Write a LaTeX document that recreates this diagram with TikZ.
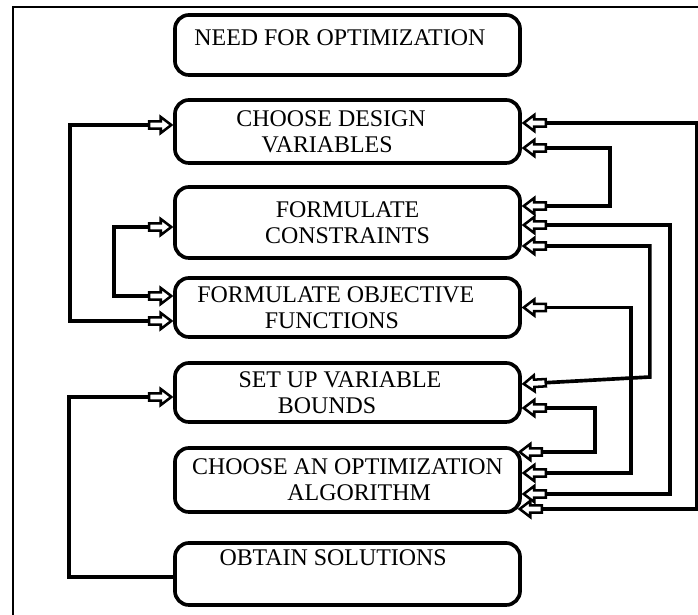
\documentclass[tikz,border=0pt]{standalone}
\usepackage{fontspec}
\setmainfont{Liberation Serif}
\usetikzlibrary{arrows.meta}

% hollow block arrow
\pgfdeclarearrow{
  name=Block,
  setup code={
    \pgfarrowssettipend{0pt}
    \pgfarrowssetlineend{-16pt}
    \pgfarrowssetvisualbackend{-17pt}
    \pgfarrowssetbackend{-18pt}
    \pgfarrowshullpoint{0pt}{0pt}
    \pgfarrowshullpoint{-18pt}{6.6pt}
    \pgfarrowshullpoint{-18pt}{-6.6pt}
  },
  drawing code={
    \pgfsetlinewidth{1.8pt}\pgfsetdash{}{0pt}\pgfsetmiterjoin
    \pgfpathmoveto{\pgfqpoint{-1.3pt}{0pt}}
    \pgfpathlineto{\pgfqpoint{-8.8pt}{5.7pt}}
    \pgfpathlineto{\pgfqpoint{-8.8pt}{2.6pt}}
    \pgfpathlineto{\pgfqpoint{-17pt}{2.6pt}}
    \pgfpathlineto{\pgfqpoint{-17pt}{-2.6pt}}
    \pgfpathlineto{\pgfqpoint{-8.8pt}{-2.6pt}}
    \pgfpathlineto{\pgfqpoint{-8.8pt}{-5.7pt}}
    \pgfpathclose
    \pgfsetfillcolor{white}
    \pgfusepathqfillstroke
  }
}

\begin{document}
\begin{tikzpicture}[x=0.025cm,y=-0.025cm,>=Block,
  every node/.style={font=\fontsize{17}{18.5}\selectfont},
  box/.style={draw,line width=2.6pt,rounded corners=0.35cm,minimum width=8.625cm,align=center,inner sep=2pt},
  line/.style={line width=2.6pt}]
\useasboundingbox (0,0) rectangle (698,615);
\draw[line width=1.6pt] (13,615) -- (13,7) -- (698,7);

\node[box,minimum height=1.5cm,text depth=10pt] (b1) at (347.5,45) {\hspace*{-0.38cm}NEED FOR OPTIMIZATION};
\node[box,minimum height=1.575cm] (b2) at (347.5,131.5) {\hspace*{-0.82cm}CHOOSE DESIGN\\\hspace*{-1.02cm}VARIABLES};
\node[box,minimum height=1.775cm] (b3) at (347.5,222.5) {FORMULATE\\CONSTRAINTS};
\node[box,minimum height=1.475cm] (b4) at (347.5,307.5) {\hspace*{-0.58cm}FORMULATE OBJECTIVE\\\hspace*{-0.78cm}FUNCTIONS};
\node[box,minimum height=1.475cm] (b5) at (347.5,392.5) {\hspace*{-0.38cm}SET UP VARIABLE\\\hspace*{-1.02cm}BOUNDS};
\node[box,minimum height=1.6cm] (b6) at (347.5,480) {CHOOSE AN OPTIMIZATION\\\hspace*{0.58cm}ALGORITHM};
\node[box,minimum height=1.55cm,text depth=24pt] (b7) at (347.5,574) {\hspace*{-0.72cm}OBTAIN SOLUTIONS};

% right side
\draw[line,<->] ([shift={(0,-8.5)}]b2.east) -- ++(175,0) |- ([shift={(-4,29)}]b6.east);
\draw[line,<->] ([shift={(0,16.5)}]b2.east) -- ++(88,0) |- ([shift={(0,-16.5)}]b3.east);
\draw[line,<->] ([shift={(0,2.5)}]b3.east) -- ++(148,0) |- ([shift={(0,14)}]b6.east);
\draw[line,<->] ([shift={(0,23.5)}]b3.east) -- ++(128,0) -- ++(0,131) -- ([shift={(0,-8.5)}]b5.east);
\draw[line,<->] (b4.east) -- ++(109,0) |- ([shift={(0,-7)}]b6.east);
\draw[line,<->] ([shift={(0,15.5)}]b5.east) -- ++(73,0) |- ([shift={(-4,-28)}]b6.east);

% left side
\draw[line,<->] ([shift={(0,-6.5)}]b2.west) -- ++(-103,0) |- ([shift={(0,13.5)}]b4.west);
\draw[line,<->] ([shift={(0,4.5)}]b3.west) -- ++(-59,0) |- ([shift={(0,-11.5)}]b4.west);
\draw[line,->] ([shift={(0,3)}]b7.west) -- ++(-104,0) |- ([shift={(0,4.5)}]b5.west);

\end{tikzpicture}
\end{document}
